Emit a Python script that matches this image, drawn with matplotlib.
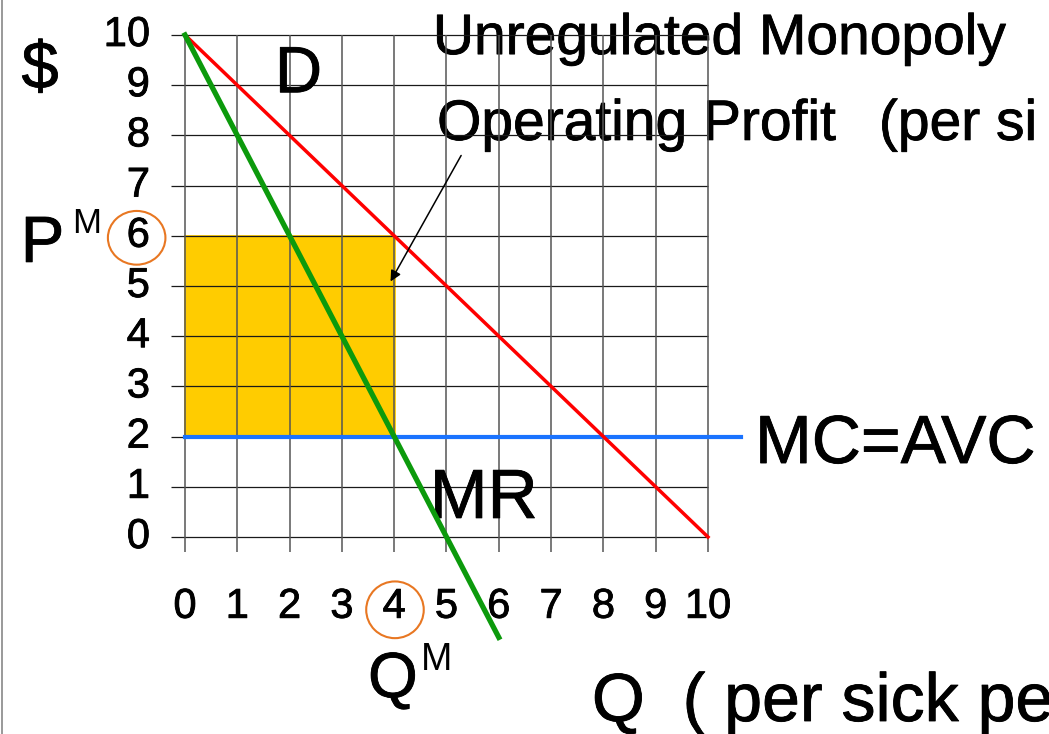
import matplotlib
matplotlib.use("Agg")
import matplotlib.pyplot as plt
import matplotlib.patheffects as pe
from matplotlib.patches import Ellipse, Rectangle
from matplotlib.lines import Line2D

plt.rcParams['font.family'] = ['Liberation Sans', 'DejaVu Sans']

# data
quantity = [0, 1, 2, 3, 4, 5, 6, 7, 8, 9, 10]
demand = [10, 9, 8, 7, 6, 5, 4, 3, 2, 1, 0]
mr_quantity = [0, 1, 2, 3, 4, 5, 6]
marginal_revenue = [10, 8, 6, 4, 2, 0, -2]
mc_quantity = [0, 10.64]
mc_level = [2, 2]
price_ticks = [0, 1, 2, 3, 4, 5, 6, 7, 8, 9, 10]
qty_ticks = [0, 1, 2, 3, 4, 5, 6, 7, 8, 9, 10]
P_M = 6
Q_M = 4
MC = 2

# slide text looks a bit heavier than plain Liberation Sans
bold_ish = [pe.withStroke(linewidth=0.6, foreground='black')]

fig = plt.figure(figsize=(10.49, 7.34), dpi=100)
ax = fig.add_axes([0, 0, 1, 1])
# axes cover the whole picture, limits chosen so the grid sits where it does in the slide
ax.set_xlim(-3.537, 16.52)
ax.set_ylim(-3.924, 10.697)
ax.axis('off')

# left border of the slide
fig.add_artist(Line2D([2 / 1049, 2 / 1049], [0, 1], color='#888888', lw=1.2))

# profit box
ax.add_patch(Rectangle((0, MC), Q_M, P_M - MC, facecolor='#FFCC00', edgecolor='#FFCC00',
                       lw=2, zorder=1))

# titles sit under the grid
ax.text(4.74, 9.62, 'Unregulated Monopoly', fontsize=41, ha='left', va='baseline', zorder=0,
        path_effects=bold_ish)
ax.text(4.82, 7.91, 'Operating Profit  \u2009(per si', fontsize=41, ha='left', va='baseline',
        zorder=0, path_effects=bold_ish)

# grid
ax.hlines(price_ticks, -0.27, 10, colors='#1a1a1a', lw=0.9, zorder=2)
ax.vlines(qty_ticks, -0.30, 10, colors='#555555', lw=1.1, zorder=2)

# tick labels
for p in price_ticks:
    ax.text(-0.67, p, str(p), fontsize=30, ha='right', va='center', path_effects=bold_ish)
for q in qty_ticks:
    ax.text(q, -1.39, str(q), fontsize=30, ha='center', va='center', path_effects=bold_ish)

# curves
ax.plot(quantity, demand, color='#FF0000', lw=2.5, zorder=4)
ax.plot(mr_quantity, marginal_revenue, color='#0C9A0C', lw=3.8, zorder=4)
ax.plot(mc_quantity, mc_level, color='#1A73FF', lw=3.0, zorder=3)

# labels
ax.text(-2.77, 9.28, '$', fontsize=48, ha='center', va='center', path_effects=bold_ish)
ax.text(1.72, 8.86, 'D', fontsize=47, ha='left', va='baseline', path_effects=bold_ish)
ax.text(4.68, 0.38, 'MR', fontsize=50, ha='left', va='baseline', zorder=3, path_effects=bold_ish)
ax.text(10.90, 1.474, 'MC=AVC', fontsize=49, ha='left', va='baseline', path_effects=bold_ish)
ax.text(-3.14, 5.48, 'P', fontsize=47, ha='left', va='baseline', path_effects=bold_ish)
ax.text(-2.16, 6.06, 'M', fontsize=25, ha='left', va='baseline')
ax.text(3.50, -3.19, 'Q', fontsize=46, ha='left', va='baseline', path_effects=bold_ish)
ax.text(4.51, -2.65, 'M', fontsize=27, ha='left', va='baseline')
ax.text(7.78, -3.665, 'Q  ( per sick pe', fontsize=49, ha='left', va='baseline',
        path_effects=bold_ish)

# circles round the monopoly price and quantity
ax.add_patch(Ellipse((-0.924, P_M - 0.04), 1.10, 1.07, fill=False, edgecolor='#E87722', lw=1.5))
ax.add_patch(Ellipse((Q_M + 0.015, -1.45), 1.10, 1.13, fill=False, edgecolor='#E87722', lw=1.5))

# arrow to the profit box
ax.annotate('', xy=(3.93, 5.09), xytext=(5.28, 7.6),
            arrowprops=dict(arrowstyle='-|>', color='black', lw=1.1, mutation_scale=16,
                            shrinkA=0, shrinkB=0), zorder=5)

fig.savefig('out.png', dpi=100)
